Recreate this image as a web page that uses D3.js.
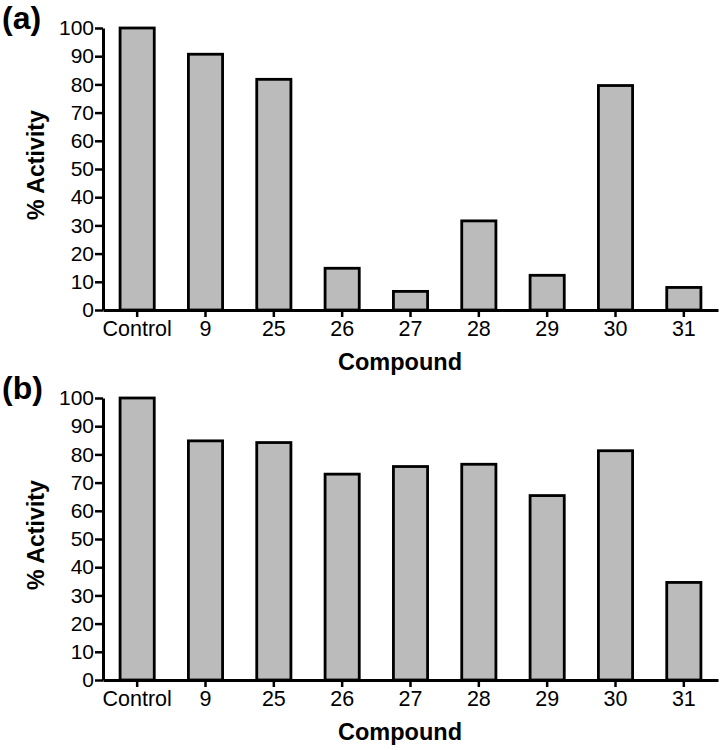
<!DOCTYPE html>
<html>
<head>
<meta charset="utf-8">
<script src="https://cdn.jsdelivr.net/npm/d3@7"></script>
<style>
  body { margin: 0; background: #fff; }
  svg { display: block; }
  text { font-family: "Liberation Sans", Arial, Helvetica, sans-serif; }
</style>
</head>
<body>
<svg id="chart" width="722" height="750"></svg>
<script>
const categories = ["Control", "9", "25", "26", "27", "28", "29", "30", "31"];
const valuesA = [100, 90.7, 81.8, 14.8, 6.6, 31.6, 12.3, 79.6, 8.0];
const valuesB = [100, 84.8, 84.2, 73.0, 75.7, 76.5, 65.4, 81.3, 34.6];
const yTicks = [0, 10, 20, 30, 40, 50, 60, 70, 80, 90, 100];
const panelLabels = ["(a)", "(b)"];
const xTitle = "Compound";
const yTitle = "% Activity";

const svg = d3.select("#chart");
const left = 103, right = 718;
const panels = [
  { values: valuesA, label: panelLabels[0], top: 28, bottom: 310 },
  { values: valuesB, label: panelLabels[1], top: 398, bottom: 680 }
];

const x = d3.scaleBand().domain(categories).range([left, right]).paddingInner(0.5).paddingOuter(0.25);

panels.forEach(p => {
  const g = svg.append("g");
  const y = d3.scaleLinear().domain([0, 100]).range([p.bottom, p.top]);

  g.selectAll("rect.bar").data(p.values).enter().append("rect")
    .attr("class", "bar")
    .attr("x", (d, i) => x(categories[i]))
    .attr("width", x.bandwidth())
    .attr("y", d => y(d))
    .attr("height", d => y(0) - y(d))
    .attr("fill", "#bbbbbb")
    .attr("stroke", "#000")
    .attr("stroke-width", 2.8);

  const ya = g.append("g").attr("transform", `translate(${left},0)`)
    .call(d3.axisLeft(y).tickValues(yTicks).tickSize(8).tickSizeOuter(0).tickPadding(1));
  ya.select(".domain").attr("stroke-width", 3);
  ya.selectAll(".tick line").attr("stroke-width", 2.5);
  ya.selectAll(".tick text").attr("font-size", 21).attr("fill", "#000")
    .style("font-family", '"Liberation Sans", Arial, sans-serif');

  const xa = g.append("g").attr("transform", `translate(0,${p.bottom})`)
    .call(d3.axisBottom(x).tickSize(7).tickSizeOuter(0).tickPadding(4));
  xa.select(".domain").attr("stroke-width", 3);
  xa.selectAll(".tick line").attr("stroke-width", 2.5);
  xa.selectAll(".tick text").attr("font-size", 21.5).attr("fill", "#000")
    .style("font-family", '"Liberation Sans", Arial, sans-serif');

  g.append("text").attr("x", 400).attr("y", p.bottom + 60)
    .attr("text-anchor", "middle").attr("font-size", 23.5).attr("font-weight", "bold")
    .text(xTitle);

  g.append("text").attr("transform", `translate(44,${(p.top + p.bottom) / 2 - 4}) rotate(-90)`)
    .attr("text-anchor", "middle").attr("font-size", 23.2).attr("font-weight", "bold")
    .text(yTitle);

  g.append("text").attr("x", 2).attr("y", p.top + 1)
    .attr("font-size", 32).attr("font-weight", "bold")
    .text(p.label);
});
</script>
</body>
</html>
